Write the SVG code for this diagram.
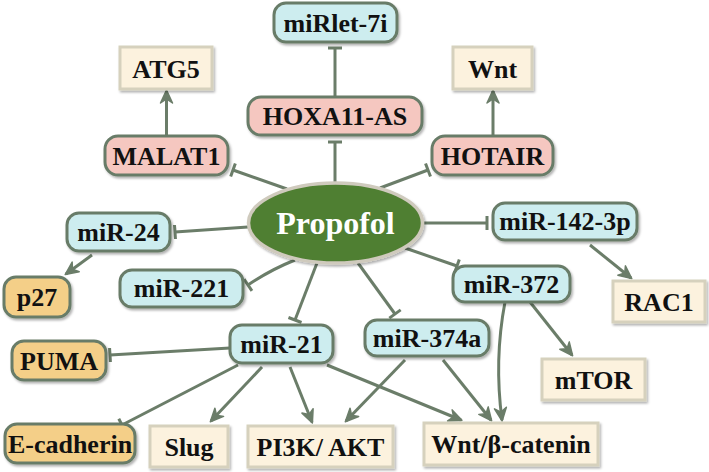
<svg xmlns="http://www.w3.org/2000/svg" width="709" height="472" viewBox="0 0 709 472">
<style>
text{font-family:"Liberation Serif","Times New Roman",serif;font-weight:bold;font-size:26px;text-anchor:middle;fill:#111}
.r{stroke:#687b67;stroke-width:3;filter:url(#sh)}
.blue{fill:#cdedef}
.pink{fill:#f5c7c0}
.orange{fill:#f4cf88}
.cream{fill:#fcf2de;stroke:#d6d1bd;stroke-width:3;filter:url(#sh)}
.c{fill:none;stroke:#6b7d69;stroke-width:3}
.a{marker-end:url(#arr)}
.i{marker-end:url(#inh)}
</style>
<defs>
<filter id="sh" x="-10%" y="-10%" width="130%" height="140%">
<feDropShadow dx="1.5" dy="2" stdDeviation="1.2" flood-color="#000" flood-opacity="0.3"/>
</filter>
<marker id="arr" markerUnits="userSpaceOnUse" markerWidth="30" markerHeight="30" refX="0" refY="0" viewBox="-15 -15 30 30" orient="auto" overflow="visible">
<path d="M1,0 L-12,-6 L-8,0 L-12,6 Z" fill="#6b7d69" stroke="#6b7d69" stroke-width="1.5" stroke-linejoin="round"/>
</marker>
<marker id="inh" markerUnits="userSpaceOnUse" markerWidth="30" markerHeight="30" refX="0" refY="0" viewBox="-15 -15 30 30" orient="auto" overflow="visible">
<path d="M0,-7 L0,7" stroke="#6b7d69" stroke-width="3"/>
</marker>
</defs>

<g id="connectors">
<path class="c i" d="M335,183 L335,142"/>
<path class="c i" d="M335,97 L335,48"/>
<path class="c i" d="M287,189 L233,170"/>
<path class="c i" d="M380,188 L428,170"/>
<path class="c a" d="M166.5,136 L166.5,91"/>
<path class="c a" d="M493,136 L493,91"/>
<path class="c i" d="M248,227 L175,232"/>
<path class="c a" d="M92,255 L66,274"/>
<path class="c i" d="M295,260 Q270,270 248,285"/>
<path class="c i" d="M317,263 L295,320"/>
<path class="c i" d="M358,263 L395,314"/>
<path class="c i" d="M405,248 L457,266"/>
<path class="c i" d="M422,223 L487,223"/>
<path class="c a" d="M590,245 L631,278"/>
<path class="c i" d="M230,348 L110,355"/>
<path class="c i" d="M238,365 L122,425"/>
<path class="c a" d="M262,367 L211,421"/>
<path class="c a" d="M290,367 L312,422"/>
<path class="c a" d="M327,365 L461,420"/>
<path class="c a" d="M405,360 L346,421"/>
<path class="c a" d="M443,360 L491,420"/>
<path class="c a" d="M505,302 Q494,360 502,420"/>
<path class="c a" d="M530,302 L572,355"/>
</g>

<g id="miRlet-7i"><rect class="r blue" x="274" y="3" width="123" height="39" rx="12"/><text x="335.5" y="31.5">miRlet-7i</text></g>
<g id="ATG5"><rect class="cream" x="120" y="47" width="92" height="42"/><text x="166" y="77.5">ATG5</text></g>
<g id="Wnt"><rect class="cream" x="453" y="47" width="79" height="42"/><text x="492.5" y="77.5">Wnt</text></g>
<g id="HOXA11-AS"><rect class="r pink" x="248" y="97" width="174" height="38" rx="13"/><text x="335" y="125">HOXA11-AS</text></g>
<g id="MALAT1"><rect class="r pink" x="105" y="136" width="123" height="39" rx="13"/><text x="166.5" y="164.5">MALAT1</text></g>
<g id="HOTAIR"><rect class="r pink" x="432" y="136" width="121" height="39" rx="13"/><text x="492.5" y="164.5">HOTAIR</text></g>
<g id="Propofol"><ellipse cx="335.5" cy="223" rx="87" ry="40" fill="#507f33" stroke="#cfcabd" stroke-width="3.5" filter="url(#sh)"/><text x="335.5" y="234" style="font-size:32px;fill:#fff">Propofol</text></g>
<g id="miR-24"><rect class="r blue" x="67" y="213" width="103" height="38" rx="12"/><text x="118.5" y="241">miR-24</text></g>
<g id="miR-142-3p"><rect class="r blue" x="493" y="203" width="144" height="37" rx="12"/><text x="565" y="230">miR-142-3p</text></g>
<g id="p27"><rect class="r orange" x="4" y="277" width="66" height="40" rx="12"/><text x="37" y="306">p27</text></g>
<g id="miR-221"><rect class="r blue" x="120" y="270" width="123" height="37" rx="12"/><text x="181.5" y="297">miR-221</text></g>
<g id="miR-372"><rect class="r blue" x="453" y="266" width="117" height="36" rx="12"/><text x="511.5" y="293">miR-372</text></g>
<g id="RAC1"><rect class="cream" x="613" y="281" width="92" height="41"/><text x="659" y="310.5">RAC1</text></g>
<g id="miR-21"><rect class="r blue" x="230" y="325" width="103" height="38" rx="12"/><text x="281.5" y="353">miR-21</text></g>
<g id="miR-374a"><rect class="r blue" x="365" y="320" width="124" height="36" rx="12"/><text x="427" y="347">miR-374a</text></g>
<g id="PUMA"><rect class="r orange" x="12" y="341" width="94" height="39" rx="12"/><text x="59" y="369.5">PUMA</text></g>
<g id="mTOR"><rect class="cream" x="542" y="359" width="103" height="41"/><text x="593.5" y="388.5">mTOR</text></g>
<g id="E-cadherin"><rect class="r orange" x="5" y="424" width="130" height="39" rx="12"/><text x="70" y="452.5">E-cadherin</text></g>
<g id="Slug"><rect class="cream" x="150" y="426" width="78" height="41"/><text x="189" y="455.5">Slug</text></g>
<g id="PI3K-AKT"><rect class="cream" x="248" y="426" width="145" height="41"/><text x="320.5" y="455.5">PI3K/ AKT</text></g>
<g id="Wnt-beta-catenin"><rect class="cream" x="424" y="423" width="174" height="42"/><text x="511" y="453">Wnt/β-catenin</text></g>
</svg>
